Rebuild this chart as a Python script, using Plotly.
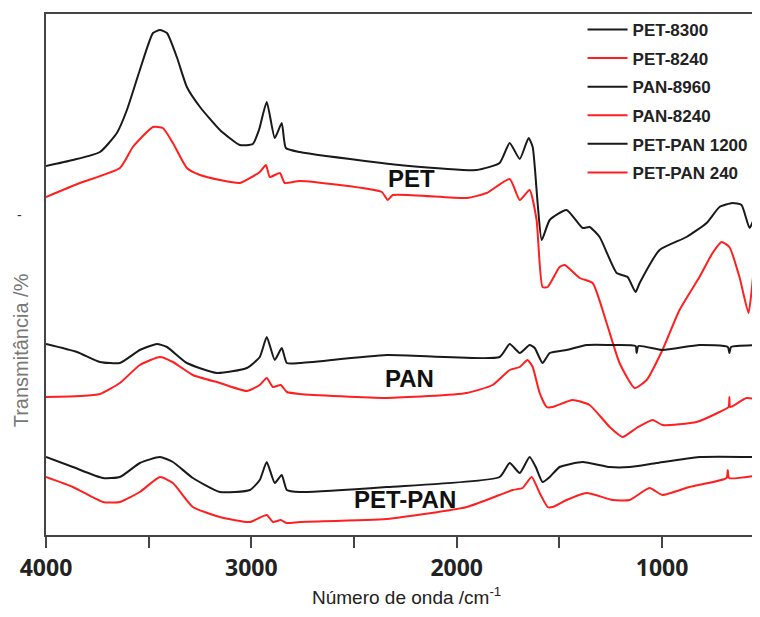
import plotly.graph_objects as go

# wavenumber (cm-1) and relative transmittance (arbitrary offset units)
pet_8300_wn = [4000, 3869, 3737, 3655, 3606, 3543, 3479, 3445, 3411, 3363, 3314, 3250, 3153, 3056, 2993,
               2963, 2925, 2886, 2852, 2832, 2764, 2365, 2277, 1903, 1791, 1742, 1693, 1650, 1630, 1606,
               1586, 1547, 1465, 1387, 1353, 1304, 1221, 1168, 1129, 1109, 1012, 881, 783, 720, 657,
               613, 574, 550, 526]
pet_8300_t = [369, 375, 383, 402, 425, 465, 502, 505, 502, 478, 448, 428, 405, 390, 391,
              405, 433, 397, 412, 387, 383, 372, 370, 365, 372, 392, 376, 397, 388, 332,
              295, 315, 325, 307, 308, 298, 262, 258, 243, 252, 285, 298, 312, 328, 332,
              330, 307, 318, 348]

pet_8240_wn = [4000, 3835, 3640, 3577, 3479, 3431, 3382, 3314, 3250, 3153, 3056, 2959, 2929, 2910, 2861,
               2837, 2764, 2365, 2336, 2311, 1951, 1854, 1742, 1693, 1645, 1611, 1582, 1557, 1499, 1474,
               1401, 1338, 1270, 1207, 1134, 1075, 998, 915, 818, 754, 710, 672, 623, 579, 560, 535]
pet_8240_t = [338, 352, 367, 388, 408, 407, 392, 367, 360, 355, 352, 363, 370, 358, 362,
              352, 354, 343, 335, 340, 337, 342, 356, 335, 345, 315, 248, 248, 268, 270,
              257, 252, 212, 172, 147, 155, 185, 225, 258, 282, 293, 288, 258, 222, 252, 312]

pan_8960_wn = [4000, 3849, 3737, 3640, 3543, 3460, 3411, 3314, 3168, 3022, 2959, 2925, 2886, 2852, 2827,
               2764, 2341, 1791, 1742, 1693, 1645, 1620, 1582, 1547, 1465, 1367, 1241, 1129, 1124, 1115,
               998, 818, 680, 672, 664, 526]
pan_8960_t = [191, 183, 173, 172, 185, 191, 188, 172, 162, 167, 178, 198, 175, 187, 172,
              172, 180, 178, 191, 182, 190, 187, 172, 182, 185, 190, 190, 189, 182, 189,
              185, 190, 188, 182, 188, 190]

pan_8240_wn = [4000, 3835, 3737, 3640, 3543, 3445, 3382, 3285, 3153, 3022, 2959, 2925, 2895, 2857, 2827,
               2764, 2341, 1951, 1825, 1742, 1693, 1655, 1630, 1596, 1562, 1533, 1436, 1353, 1255, 1192,
               1124, 1046, 998, 832, 720, 676, 672, 668, 589, 526]
pan_8240_t = [138, 139, 141, 152, 170, 178, 173, 160, 152, 144, 150, 157, 148, 150, 143,
              141, 137, 142, 150, 165, 168, 175, 168, 142, 128, 128, 135, 130, 108, 98,
              107, 115, 110, 113, 123, 128, 138, 128, 137, 135]

petpan_1200_wn = [4000, 3869, 3723, 3640, 3543, 3445, 3382, 3285, 3153, 3007, 2959, 2925, 2886, 2852, 2827,
                  2764, 2341, 1791, 1742, 1693, 1645, 1615, 1582, 1547, 1499, 1387, 1255, 1158, 1027, 818, 526]
petpan_1200_t = [78, 68, 57, 58, 72, 78, 73, 57, 43, 45, 55, 73, 52, 60, 45,
                 43, 48, 58, 72, 62, 78, 68, 53, 58, 68, 73, 68, 68, 72, 78, 78]

petpan_240_wn = [4000, 3869, 3723, 3640, 3543, 3445, 3382, 3285, 3153, 3007, 2925, 2895, 2857, 2827, 2764,
                 2341, 1951, 1791, 1727, 1679, 1635, 1596, 1557, 1533, 1465, 1367, 1241, 1158, 1061, 998,
                 866, 686, 680, 674, 526]
petpan_240_t = [58, 48, 33, 33, 43, 58, 52, 28, 18, 13, 20, 13, 15, 12, 13,
                16, 28, 40, 45, 47, 58, 42, 28, 28, 35, 42, 35, 35, 47, 40,
                48, 57, 65, 57, 60]

series = [
    ("PET-8300", pet_8300_wn, pet_8300_t, "#1a1a1a"),
    ("PET-8240", pet_8240_wn, pet_8240_t, "#ff1f1f"),
    ("PAN-8960", pan_8960_wn, pan_8960_t, "#1a1a1a"),
    ("PAN-8240", pan_8240_wn, pan_8240_t, "#ff1f1f"),
    ("PET-PAN 1200", petpan_1200_wn, petpan_1200_t, "#1a1a1a"),
    ("PET-PAN 240", petpan_240_wn, petpan_240_t, "#ff1f1f"),
]

# sample labels placed next to each pair of curves
group_labels = ["PET", "PAN", "PET-PAN"]
group_label_wn = [2219, 2229, 2253]
group_label_t = [357, 157, 36]

fig = go.Figure()
for i, (name, wn, t, color) in enumerate(series):
    fig.add_trace(go.Scatter(x=wn, y=t, name="<b>%s</b>" % name, mode="lines",
                             line=dict(color=color, width=2, shape="spline", smoothing=0.5),
                             legendgroup=str(i)))

for lab, x, y in zip(group_labels, group_label_wn, group_label_t):
    fig.add_annotation(x=x, y=y, text="<b>%s</b>" % lab, showarrow=False,
                       font=dict(family="Liberation Sans", size=24, color="#111"))

# axis titles as annotations so they sit where the original puts them
fig.add_annotation(xref="paper", yref="paper", x=-0.035, y=0.355, text="Transmitância /%",
                   textangle=-90, showarrow=False, xanchor="center", yanchor="middle",
                   font=dict(family="Liberation Sans", size=20, color="#777"))
fig.add_annotation(xref="paper", yref="paper", x=0.51, y=-0.117, text="Número de onda /cm<sup>-1</sup>",
                   showarrow=False, xanchor="center", yanchor="middle",
                   font=dict(family="Liberation Sans", size=19, color="#222"))
fig.add_annotation(xref="paper", yref="paper", x=-0.044, y=0.615, text="-", showarrow=False,
                   font=dict(family="Liberation Sans", size=14, color="#333"))

# the page body adds an 8px offset, so the figure is sized to fit the window without scrolling
fig.update_layout(
    width=744, height=601,
    margin=dict(l=38, r=0, t=6, b=74, autoexpand=False),
    plot_bgcolor="white", paper_bgcolor="white",
    showlegend=True,
    legend=dict(x=0.760, y=1.004, xanchor="left", yanchor="top", bgcolor="rgba(0,0,0,0)",
                tracegroupgap=3.5, font=dict(family="Liberation Sans", size=17, color="#222"),
                itemwidth=40),
    xaxis=dict(range=[4000, 562], tickvals=[4000, 3000, 2000, 1000],
               ticktext=["<b>4000</b>", "<b>3000</b>", "<b>2000</b>", "<b>1000</b>"],
               ticks="outside", ticklen=11, tickwidth=2, tickcolor="#444",
               minor=dict(tickvals=[3500, 2500, 1500], ticks="outside", ticklen=11, tickwidth=2, tickcolor="#444"),
               showline=True, linecolor="#444", linewidth=2, mirror=True, showgrid=False, zeroline=False,
               tickfont=dict(family="Open Sans", size=23, color="#222")),
    yaxis=dict(range=[0, 521], showticklabels=False, ticks="", showline=True, linecolor="#444",
               linewidth=2, showgrid=False, zeroline=False),
)

fig.write_html("out.html")
